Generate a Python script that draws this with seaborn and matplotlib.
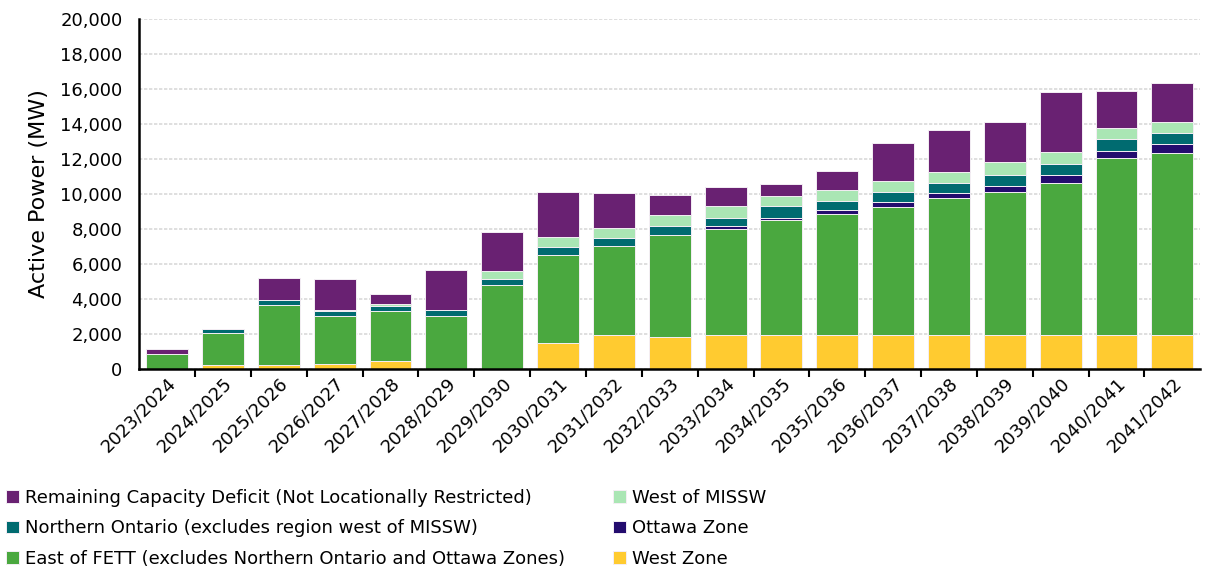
import numpy as np
import pandas as pd
import matplotlib
matplotlib.use("Agg")
import matplotlib.pyplot as plt
import seaborn as sns

# categories
years = ["2023/2024", "2024/2025", "2025/2026", "2026/2027", "2027/2028",
         "2028/2029", "2029/2030", "2030/2031", "2031/2032", "2032/2033",
         "2033/2034", "2034/2035", "2035/2036", "2036/2037", "2037/2038",
         "2038/2039", "2039/2040", "2040/2041", "2041/2042"]

# series values (MW)
west_zone = [0, 250, 250, 300, 460, 0, 0, 1500, 1950, 1850,
             1950, 1950, 1950, 1950, 1950, 1950, 1950, 1950, 1950]
east_fett = [850, 1800, 3420, 2710, 2850, 3030, 4780, 5030, 5100, 5800,
             6030, 6540, 6920, 7290, 7800, 8180, 8680, 10090, 10380]
ottawa = [0, 0, 0, 0, 0, 0, 0, 0, 0, 0,
          170, 150, 230, 300, 290, 340, 430, 430, 510]
northern_ontario = [0, 230, 290, 300, 310, 360, 360, 440, 440, 490,
                    490, 670, 500, 570, 590, 590, 670, 650, 660]
west_missw = [0, 0, 0, 60, 80, 0, 440, 590, 580, 650,
              650, 590, 650, 650, 640, 750, 650, 670, 630]
remaining = [300, 0, 1260, 1750, 570, 2270, 2270, 2570, 1970, 1120,
             1130, 670, 1040, 2130, 2360, 2280, 3470, 2110, 2230]

# stacking order, bottom to top
series = [
    ("West Zone", west_zone, "#FFCB30"),
    ("East of FETT (excludes Northern Ontario and Ottawa Zones)", east_fett, "#4AA83F"),
    ("Ottawa Zone", ottawa, "#230C6E"),
    ("Northern Ontario (excludes region west of MISSW)", northern_ontario, "#006B70"),
    ("West of MISSW", west_missw, "#AAE6B4"),
    ("Remaining Capacity Deficit (Not Locationally Restricted)", remaining, "#692172"),
]

sns.set_theme(style="white")
plt.rcParams['font.family'] = ['DejaVu Sans']
plt.rcParams['text.color'] = 'black'
plt.rcParams['axes.labelcolor'] = 'black'
plt.rcParams['xtick.color'] = 'black'
plt.rcParams['ytick.color'] = 'black'

fig = plt.figure(figsize=(12.1, 5.72), dpi=100)
ax = fig.add_axes([0.115, 0.355, 0.877, 0.612])

bottom = np.zeros(len(years))
for name, vals, col in series:
    df = pd.DataFrame({"year": years, "mw": vals})
    sns.barplot(data=df, x="year", y="mw", bottom=bottom, color=col,
                width=0.75, edgecolor="#f4eef4", linewidth=0.7,
                label=name, ax=ax, errorbar=None, saturation=1)
    bottom = bottom + np.array(vals)

ax.set_ylim(0, 20000)
ax.set_xlim(-0.5, len(years) - 0.5)
ax.set_yticks(np.arange(0, 20001, 2000))
ax.yaxis.set_major_formatter(matplotlib.ticker.FuncFormatter(lambda v, p: f"{int(v):,}"))
ax.grid(axis="y", color="#d9d9d9", linewidth=1.2, linestyle=(0, (2, 1)))
ax.set_axisbelow(True)

ax.set_xlabel("")
ax.set_ylabel("Active Power (MW)", fontsize=16, labelpad=8)
ax.tick_params(axis="y", length=0, pad=12, labelsize=13)
ax.tick_params(axis="x", which="major", length=0, labelsize=13, pad=4)
plt.setp(ax.get_xticklabels(), rotation=45, ha="right", rotation_mode="anchor")

# ticks between the categories
ax.set_xticks(np.arange(0.5, len(years) - 1, 1), minor=True)
ax.tick_params(axis="x", which="minor", length=6, width=1.5, color="black", direction="out", bottom=True)

for s in ["top", "right"]:
    ax.spines[s].set_visible(False)
for s in ["left", "bottom"]:
    ax.spines[s].set_color("black")
    ax.spines[s].set_linewidth(1.8)

if ax.get_legend() is not None:
    ax.get_legend().remove()

handles, labels = ax.get_legend_handles_labels()
lookup = dict(zip(labels, handles))
col1 = ["Remaining Capacity Deficit (Not Locationally Restricted)",
        "Northern Ontario (excludes region west of MISSW)",
        "East of FETT (excludes Northern Ontario and Ottawa Zones)"]
col2 = ["West of MISSW", "Ottawa Zone", "West Zone"]

leg_kw = dict(frameon=False, fontsize=13, handlelength=0.7, handleheight=0.7,
              handletextpad=0.35, labelspacing=0.68, borderpad=0, borderaxespad=0)
leg1 = fig.legend([lookup[l] for l in col1], col1, loc="upper left",
                  bbox_to_anchor=(0.005, 0.145), **leg_kw)
leg2 = fig.legend([lookup[l] for l in col2], col2, loc="upper left",
                  bbox_to_anchor=(0.507, 0.145), **leg_kw)

fig.savefig("out.png", dpi=100)
